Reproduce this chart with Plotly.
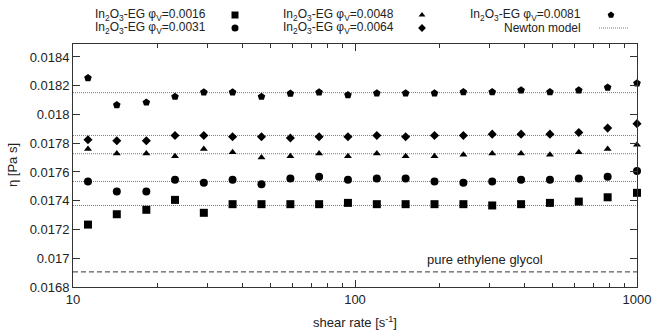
import plotly.graph_objects as go

# ---------------- data ----------------
shear_rate = [11.3, 14.3, 18.2, 23.0, 29.1, 36.8, 46.6, 59.0, 74.6, 94.4,
              119.5, 151.2, 191.4, 242.3, 306.6, 388.1, 491.2, 621.7, 786.9, 1000]

eta_0016 = [0.017234, 0.017306, 0.017337, 0.017406, 0.017316, 0.017376, 0.017376, 0.017376, 0.017376, 0.017385,
            0.017376, 0.017376, 0.017376, 0.017376, 0.017367, 0.017376, 0.017385, 0.017394, 0.017424, 0.017455]
eta_0031 = [0.017534, 0.017464, 0.017464, 0.017546, 0.017525, 0.017546, 0.017515, 0.017555, 0.017567, 0.017546,
            0.017555, 0.017555, 0.017534, 0.017525, 0.017534, 0.017546, 0.017546, 0.017555, 0.017567, 0.017606]
eta_0048 = [0.017759, 0.017729, 0.017729, 0.017710, 0.017759, 0.017738, 0.017701, 0.017710, 0.017729, 0.017710,
            0.017729, 0.017710, 0.017710, 0.017720, 0.017729, 0.017729, 0.017720, 0.017738, 0.017759, 0.017790]
eta_0064 = [0.017824, 0.017817, 0.017817, 0.017854, 0.017854, 0.017845, 0.017845, 0.017836, 0.017845, 0.017845,
            0.017854, 0.017845, 0.017854, 0.017854, 0.017863, 0.017863, 0.017863, 0.017875, 0.017905, 0.017936]
eta_0081 = [0.018254, 0.018065, 0.018084, 0.018124, 0.018154, 0.018154, 0.018124, 0.018145, 0.018154, 0.018135,
            0.018147, 0.018147, 0.018147, 0.018156, 0.018156, 0.018168, 0.018156, 0.018168, 0.018187, 0.018217]

newton_eta = [0.017367, 0.017534, 0.017727, 0.017854, 0.018152]
pure_eg_eta = 0.016905
newton_x = [10, 1000]

series_names = ["0.0016", "0.0031", "0.0048", "0.0064", "0.0081"]
series_values = [eta_0016, eta_0031, eta_0048, eta_0064, eta_0081]
series_symbols = ["square", "circle", "triangle-up", "diamond", "pentagon"]
series_sizes = [8, 8, 7, 7, 8]

y_tick_vals = [0.0168, 0.0170, 0.0172, 0.0174, 0.0176, 0.0178, 0.0180, 0.0182, 0.0184]
y_tick_text = ["0.0168", "0.017", "0.0172", "0.0174", "0.0176", "0.0178", "0.018", "0.0182", "0.0184"]
x_tick_vals = [10, 100, 1000]
x_tick_text = ["10", "100", "1000"]
x_minor_vals = [20, 30, 40, 50, 60, 70, 80, 90, 200, 300, 400, 500, 600, 700, 800, 900]

FONT = "Liberation Sans, Arial, sans-serif"
TXT = "#222222"

fig = go.Figure()

# Newton model lines
nx, ny = [], []
for v in newton_eta:
    nx += [newton_x[0], newton_x[1], None]
    ny += [v, v, None]
fig.add_trace(go.Scatter(x=nx, y=ny, mode="lines", line=dict(color="#7a7a7a", width=1, dash="1px,1px"),
                         showlegend=False, hoverinfo="skip"))
# pure ethylene glycol
fig.add_trace(go.Scatter(x=newton_x, y=[pure_eg_eta, pure_eg_eta], mode="lines",
                         line=dict(color="#333333", width=1, dash="5px,3px"), showlegend=False))

for name, vals, sym, sz in zip(series_names, series_values, series_symbols, series_sizes):
    fig.add_trace(go.Scatter(x=shear_rate, y=vals, mode="markers", cliponaxis=False,
                             marker=dict(symbol=sym, size=sz, color="black", line=dict(width=0)),
                             name=name, showlegend=False))

# ---------- custom legend (gnuplot style: text then symbol) ----------
leg_cols_text_x = [208, 396, 583]
leg_sym_x = [235, 422, 611]
leg_rows_y = [15, 28]
leg_layout = [("0.0016", 0, 0), ("0.0031", 0, 1), ("0.0048", 1, 0), ("0.0064", 1, 1), ("0.0081", 2, 0)]
for (name, c, r) in leg_layout:
    i = series_names.index(name)
    fig.add_trace(go.Scatter(x=[leg_sym_x[c]], y=[leg_rows_y[r]], xaxis="x2", yaxis="y2", mode="markers",
                             marker=dict(symbol=series_symbols[i], size=series_sizes[i] - 1, color="black"),
                             showlegend=False, hoverinfo="skip", cliponaxis=False))
    fig.add_annotation(x=leg_cols_text_x[c], y=leg_rows_y[r], xref="x2", yref="y2",
                       text="In<sub>2</sub>O<sub>3</sub>-EG φ<sub>V</sub>=" + name,
                       xanchor="right", yanchor="middle", showarrow=False,
                       font=dict(family=FONT, size=12, color=TXT))
fig.add_trace(go.Scatter(x=[599, 628], y=[28, 28], xaxis="x2", yaxis="y2", mode="lines",
                         line=dict(color="#7a7a7a", width=1, dash="1px,1px"), showlegend=False,
                         hoverinfo="skip", cliponaxis=False))
fig.add_annotation(x=583, y=28, xref="x2", yref="y2", text="Newton model",
                   xanchor="right", yanchor="middle", showarrow=False,
                   font=dict(family=FONT, size=12, color=TXT))

fig.add_annotation(x=2.461, y=0.01699, xref="x", yref="y", text="pure ethylene glycol",
                   showarrow=False, xanchor="center", yanchor="middle",
                   font=dict(family=FONT, size=13, color=TXT))

plot_h = 334 - 47
# y-axis title placed as rotated text
fig.add_annotation(x=0, xshift=-60, y=(plot_h - 165) / plot_h, xref="paper", yref="paper",
                   text="η [Pa s]", textangle=-90, showarrow=False,
                   xanchor="center", yanchor="middle", font=dict(family=FONT, size=13, color=TXT))

fig.update_layout(
    width=652, height=334,
    margin=dict(l=73, r=15, t=0, b=47, pad=0),
    paper_bgcolor="white", plot_bgcolor="white",
    font=dict(family=FONT, size=13, color=TXT),
    showlegend=False,
    xaxis=dict(type="log", range=[1, 3], tickvals=x_tick_vals, ticktext=x_tick_text,
               ticks="inside", ticklen=7, tickcolor="#333", showline=True, linecolor="#333",
               linewidth=1, mirror="ticks", showgrid=False, zeroline=False,
               minor=dict(tickvals=x_minor_vals, ticks="inside", ticklen=4, tickcolor="#333", showgrid=False),
               title=dict(text="shear rate [s<sup>-1</sup>]", font=dict(size=13), standoff=12),
               tickfont=dict(size=13)),
    yaxis=dict(range=[0.0168, 0.01849], domain=[0, (plot_h - 44) / plot_h],
               tickvals=y_tick_vals, ticktext=y_tick_text,
               ticks="inside", ticklen=7, tickcolor="#333", showline=True, linecolor="#333",
               linewidth=1, mirror="ticks", showgrid=False, zeroline=False,
               tickfont=dict(size=13)),
    xaxis2=dict(domain=[0, 1], range=[73, 637], anchor="y2", visible=False, fixedrange=True),
    yaxis2=dict(domain=[(plot_h - 43) / plot_h, 1], range=[43, 0], anchor="x2", visible=False, fixedrange=True),
)

fig.write_html("out.html", post_script="document.body.style.margin='0';",
               config={"displayModeBar": False})
